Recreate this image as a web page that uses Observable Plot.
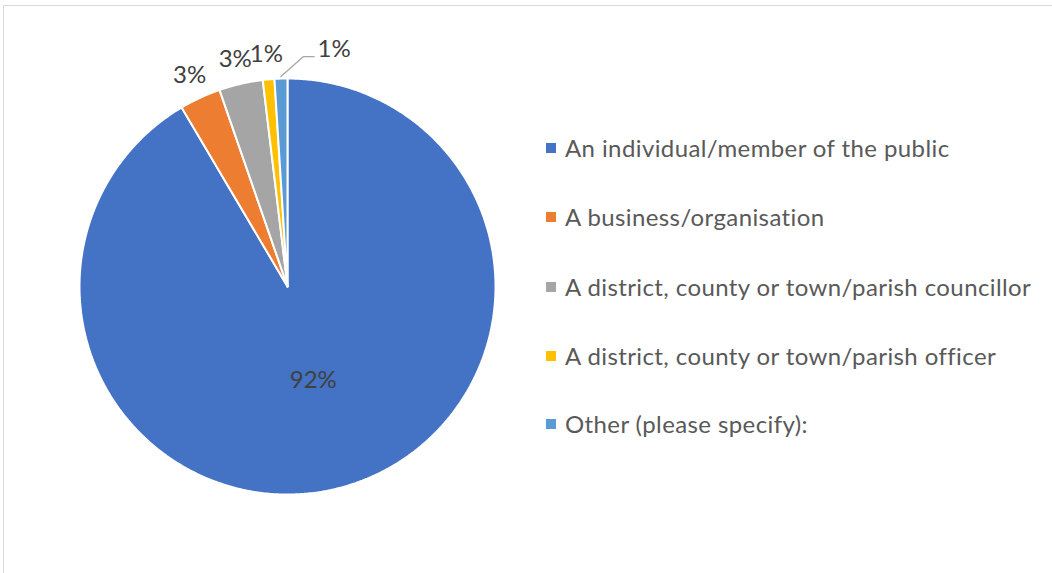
<!DOCTYPE html>
<html><head><meta charset="utf-8">
<script src="https://cdn.jsdelivr.net/npm/d3@7"></script>
<script src="https://cdn.jsdelivr.net/npm/@observablehq/plot@0.6"></script>
<style>
body{margin:0;background:#fff;}
#wrap{position:relative;width:1052px;height:573px;overflow:hidden;font-family:Lato,"Noto Sans",sans-serif;}
#frame{position:absolute;left:3px;top:5px;width:1100px;height:650px;border:1px solid #d9d9d9;box-sizing:border-box;}
#chart{position:absolute;left:0;top:0;}
#legend{position:absolute;left:0;top:0;width:1052px;height:573px;}
.item{position:absolute;left:546px;height:20px;display:flex;align-items:center;white-space:nowrap;color:#595959;font-size:24px;letter-spacing:0.4px;}
.sw{width:10px;height:10px;margin-right:9px;flex:none;position:relative;top:1px;}
</style></head><body>
<div id="wrap"><div id="frame"></div><div id="chart"></div><div id="legend"></div></div>
<script>
const categories = ["An individual/member of the public","A business/organisation","A district, county or town/parish councillor","A district, county or town/parish officer","Other (please specify):"];
const shares = [91.5, 3.2, 3.4, 0.9, 1.0];
const labels = ["92%","3%","3%","1%","1%"];
const colors = ["#4472C4","#ED7D31","#A5A5A5","#FFC000","#5B9BD5"];

const W = 1052, H = 573;
const cx = 287, cy = 286, R = 208;
const px = 1 / R; // data units per pixel
const total = d3.sum(shares);
let acc = 0;
const slices = shares.map((v, i) => {
  const a0 = acc / total * 2 * Math.PI;
  acc += v;
  const a1 = acc / total * 2 * Math.PI;
  return {cat: categories[i], a0, a1, mid: (a0 + a1) / 2, label: labels[i], i};
});
const pt = (a, r) => ({x: r * Math.sin(a), y: r * Math.cos(a)});

// slice outlines
const rows = [];
for (const s of slices) {
  const n = Math.max(2, Math.ceil((s.a1 - s.a0) / (Math.PI / 360)));
  rows.push({cat: s.cat, ...pt(0, 0)});
  for (let k = 0; k <= n; k++) rows.push({cat: s.cat, ...pt(s.a0 + (s.a1 - s.a0) * k / n, 1)});
  rows.push({cat: s.cat, ...pt(0, 0)});
}

// label positions
const labelRows = slices.map(s => {
  const inside = s.i === 0;
  const p = pt(s.mid, inside ? 0.47 : 1.12);
  return {...p, text: s.label, i: s.i, mid: s.mid};
});
// the last label is pushed aside with a leader line
const last = labelRows[labelRows.length - 1];
last.x += 54 * px; last.y += 4 * px;
const start = pt(last.mid, 1.01);
const lineEnd = {x: last.x - 20 * px, y: last.y - 7 * px};
const elbow = {x: lineEnd.x - 11 * px, y: lineEnd.y};
const leader = [start, elbow, lineEnd];

const chart = Plot.plot({
  width: W, height: H,
  marginLeft: cx - R, marginRight: W - (cx + R),
  marginTop: cy - R, marginBottom: H - (cy + R),
  x: {domain: [-1, 1], axis: null},
  y: {domain: [-1, 1], axis: null},
  color: {domain: categories, range: colors},
  style: {background: "transparent", overflow: "visible"},
  marks: [
    Plot.line(rows, {x: "x", y: "y", z: "cat", fill: "cat", stroke: "white", strokeWidth: 2, strokeLinejoin: "miter", curve: "linear"}),
    Plot.line(leader, {x: "x", y: "y", stroke: "#a6a6a6", strokeWidth: 1.3}),
    Plot.text(labelRows, {x: "x", y: "y", text: "text", fill: "#404040", fontSize: 24, fontFamily: "Lato, 'Noto Sans', sans-serif"})
  ]
});
document.getElementById("chart").appendChild(chart);

const legend = document.getElementById("legend");
const rowY = [147, 216, 286, 355, 423];
categories.forEach((c, i) => {
  const d = document.createElement("div");
  d.className = "item";
  d.style.top = (rowY[i] - 10) + "px";
  const sw = document.createElement("span");
  sw.className = "sw"; sw.style.background = colors[i];
  d.appendChild(sw);
  d.appendChild(document.createTextNode(c));
  legend.appendChild(d);
});
</script>
</body></html>
